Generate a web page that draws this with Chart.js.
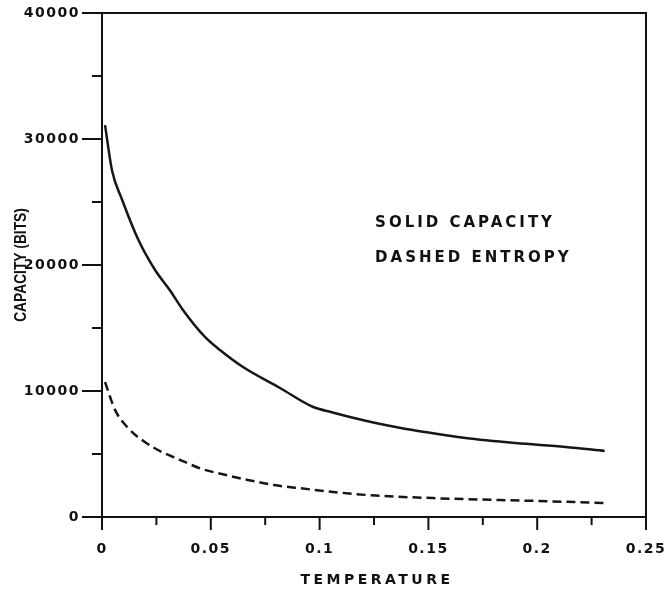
<!DOCTYPE html>
<html>
<head>
<meta charset="utf-8">
<script src="https://cdn.jsdelivr.net/npm/chart.js@4.4.1/dist/chart.umd.min.js"></script>
<style>
  html, body { margin: 0; padding: 0; background: #fff; }
  #wrap { width: 670px; height: 595px; }
</style>
</head>
<body>
<div id="wrap"><canvas id="chart" width="670" height="595"></canvas></div>
<script>
// values
const capTemp = [0.0014, 0.0046, 0.0092, 0.0167, 0.0244, 0.0312, 0.0372, 0.0473, 0.0542, 0.0648, 0.0818, 0.0968, 0.106, 0.1197, 0.135, 0.150, 0.167, 0.190, 0.213, 0.231];
const capacity = [31100, 27500, 25200, 22000, 19600, 18000, 16430, 14290, 13250, 11900, 10240, 8750, 8300, 7700, 7150, 6700, 6270, 5870, 5560, 5240];
const entTemp = [0.0014, 0.006, 0.012, 0.0197, 0.0275, 0.035, 0.0459, 0.055, 0.067, 0.079, 0.090, 0.1216, 0.152, 0.1826, 0.205, 0.231];
const entropy = [10700, 8500, 7060, 5950, 5160, 4600, 3810, 3410, 2940, 2540, 2300, 1750, 1500, 1350, 1250, 1110];

const xTicks = [0, 0.05, 0.1, 0.15, 0.2, 0.25];
const xMinor = [0.025, 0.075, 0.125, 0.175, 0.225];
const yTicks = [0, 10000, 20000, 30000, 40000];
const yMinor = [5000, 15000, 25000, 35000];
const notes = ["SOLID CAPACITY", "DASHED ENTROPY"];
const xTitle = "TEMPERATURE";
const yTitle = "CAPACITY (BITS)";

const ink = "#111";
const tickFont = { family: "'DejaVu Sans', sans-serif", size: 14, weight: "bold" };

const toPoints = (xs, ys) => xs.map((x, i) => ({ x: x, y: ys[i] }));

// frame, tick marks, axis titles and the two notes
const framePlugin = {
  id: "frame",
  beforeDraw(chart) {
    chart.ctx.letterSpacing = "1.5px";
  },
  afterDraw(chart) {
    const { ctx, chartArea: a, scales } = chart;
    const xs = scales.x, ys = scales.y;
    ctx.save();
    ctx.strokeStyle = ink;
    ctx.lineWidth = 2;
    ctx.strokeRect(a.left, a.top, a.right - a.left, a.bottom - a.top);

    ctx.beginPath();
    xTicks.forEach(v => { const p = xs.getPixelForValue(v); ctx.moveTo(p, a.bottom); ctx.lineTo(p, a.bottom + 13); });
    xMinor.forEach(v => { const p = xs.getPixelForValue(v); ctx.moveTo(p, a.bottom); ctx.lineTo(p, a.bottom + 8); });
    yTicks.forEach(v => { const p = ys.getPixelForValue(v); ctx.moveTo(a.left, p); ctx.lineTo(a.left - 20, p); });
    yMinor.forEach(v => { const p = ys.getPixelForValue(v); ctx.moveTo(a.left, p); ctx.lineTo(a.left - 10, p); });
    ctx.stroke();

    ctx.fillStyle = ink;
    ctx.textBaseline = "middle";

    ctx.font = "bold 15px 'DejaVu Sans', sans-serif";
    ctx.letterSpacing = "3px";
    ctx.textAlign = "left";
    ctx.fillText(notes[0], xs.getPixelForValue(0.1255), ys.getPixelForValue(23300));
    ctx.fillText(notes[1], xs.getPixelForValue(0.1255), ys.getPixelForValue(20560));

    ctx.font = "bold 14px 'DejaVu Sans', sans-serif";
    ctx.letterSpacing = "3.5px";
    ctx.textAlign = "center";
    ctx.fillText(xTitle, (a.left + a.right) / 2 + 3, 580);

    // narrow lettering for the y title
    ctx.font = "bold 16px 'Liberation Sans', sans-serif";
    ctx.letterSpacing = "0px";
    ctx.translate(22, (a.top + a.bottom) / 2);
    ctx.rotate(-Math.PI / 2);
    ctx.scale(0.86, 1);
    ctx.fillText(yTitle, 0, 0);
    ctx.restore();
  }
};

new Chart(document.getElementById("chart"), {
  type: "line",
  data: {
    datasets: [
      {
        label: "Capacity",
        data: toPoints(capTemp, capacity),
        borderColor: "#161616",
        borderWidth: 2.5,
        pointRadius: 0,
        fill: false,
        cubicInterpolationMode: "monotone"
      },
      {
        label: "Entropy",
        data: toPoints(entTemp, entropy),
        borderColor: "#161616",
        borderWidth: 2.5,
        borderDash: [9, 5],
        pointRadius: 0,
        fill: false,
        cubicInterpolationMode: "monotone"
      }
    ]
  },
  options: {
    responsive: false,
    animation: false,
    layout: { padding: { top: 13, right: 24, bottom: 0, left: 0 } },
    plugins: { legend: { display: false }, tooltip: { enabled: false } },
    scales: {
      x: {
        type: "linear",
        min: 0,
        max: 0.25,
        afterBuildTicks: s => { s.ticks = xTicks.map(v => ({ value: v })); },
        afterFit: s => { s.height = 78; s.paddingLeft = 0; s.paddingRight = 0; },
        grid: { display: false },
        border: { display: false },
        ticks: { color: ink, font: tickFont, padding: 16, maxRotation: 0, callback: v => String(v) }
      },
      y: {
        type: "linear",
        min: 0,
        max: 40000,
        afterBuildTicks: s => { s.ticks = yTicks.map(v => ({ value: v })); },
        afterFit: s => { s.width = 102; s.paddingTop = 0; s.paddingBottom = 0; },
        grid: { display: false },
        border: { display: false },
        ticks: { color: ink, font: tickFont, padding: 14, callback: v => String(v) }
      }
    }
  },
  plugins: [framePlugin]
});
</script>
</body>
</html>
